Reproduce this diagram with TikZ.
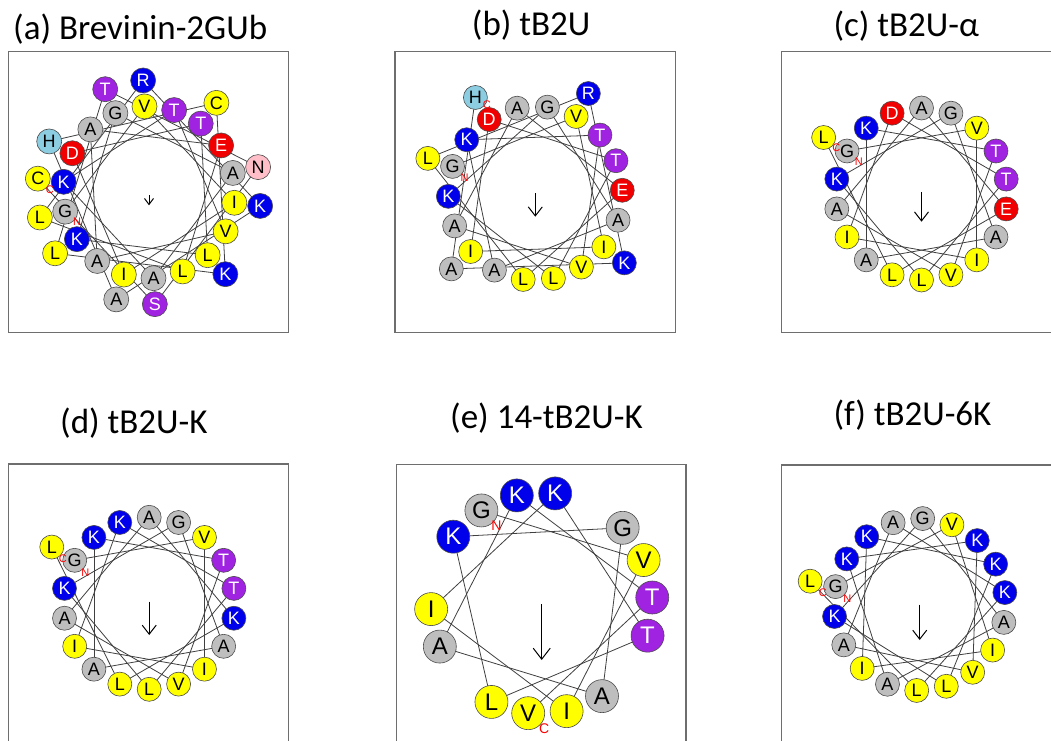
\documentclass[tikz,border=0pt]{standalone}
\usepackage{fontspec}
\setmainfont{Carlito}
\newfontfamily\resfont{Liberation Sans}
\usetikzlibrary{arrows.meta,backgrounds}

% residue class colours
\definecolor{aagray}{RGB}{190,190,190}
\definecolor{aayellow}{RGB}{255,255,0}
\definecolor{aablue}{RGB}{0,0,235}
\definecolor{aared}{RGB}{240,0,0}
\definecolor{aapurple}{RGB}{160,35,225}
\definecolor{aacyan}{RGB}{140,205,225}
\definecolor{aapink}{RGB}{255,190,200}
\definecolor{framegray}{RGB}{110,110,110}

% fill and letter colour of every one-letter residue code
\colorlet{colG}{aagray}   \colorlet{txG}{black}
\colorlet{colA}{aagray}   \colorlet{txA}{black}
\colorlet{colV}{aayellow} \colorlet{txV}{black}
\colorlet{colI}{aayellow} \colorlet{txI}{black}
\colorlet{colL}{aayellow} \colorlet{txL}{black}
\colorlet{colC}{aayellow} \colorlet{txC}{black}
\colorlet{colK}{aablue}   \colorlet{txK}{white}
\colorlet{colR}{aablue}   \colorlet{txR}{white}
\colorlet{colD}{aared}    \colorlet{txD}{white}
\colorlet{colE}{aared}    \colorlet{txE}{white}
\colorlet{colT}{aapurple} \colorlet{txT}{white}
\colorlet{colS}{aapurple} \colorlet{txS}{white}
\colorlet{colH}{aacyan}   \colorlet{txH}{black}
\colorlet{colN}{aapink}   \colorlet{txN}{black}

% helical wheel: #1 name prefix, #2 centre, #3 angle of residue 1,
% #4 inner radius, #5 outer radius, #6 sequence, #7 residue style
\newcommand\drawwheel[7]{%
  \foreach \rsd [count=\i] in {#6} {
    \pgfmathsetmacro\ang{#3-100*(\i-1)}
    \pgfmathsetmacro\rad{\i>18 ? #5 : #4}
    \node[#7, fill=col\rsd, text=tx\rsd] (#1\i) at ([shift={(\ang:\rad)}]#2) {\rsd};
    \xdef\nres{\i}
  }
  \begin{pgfonlayer}{background}
    \foreach \i [remember=\i as \j (initially 1)] in {2,...,\nres} {
      \draw[chord] (#1\j.center) -- (#1\i.center);
    }
  \end{pgfonlayer}
}

\begin{document}
\begin{tikzpicture}[x=1pt,y=1pt,
  frame/.style={draw=framegray, line width=1.5pt},
  title/.style={anchor=base west, inner sep=0pt, font=\fontsize{35}{35}\selectfont},
  res/.style={circle, draw=black!70, line width=0.6pt, inner sep=0pt,
              minimum size=24pt, font=\resfont\fontsize{18}{18}\selectfont},
  resbig/.style={res, minimum size=25pt},
  reslarge/.style={res, minimum size=33pt, font=\resfont\fontsize{24}{24}\selectfont},
  chord/.style={draw=black!75, line width=0.8pt},
  endlab/.style={text=red, inner sep=0pt, font=\resfont\fontsize{11}{11}\selectfont},
  endlabbig/.style={endlab, font=\resfont\fontsize{14}{14}\selectfont},
  moment/.style={draw=black, line width=1pt, -{Straight Barb[length=9pt,width=14pt]}},
]
\useasboundingbox (0,0) rectangle (1051,740);
\begin{pgfonlayer}{background}
  \fill[white] (0,0) rectangle (1051,740);
\end{pgfonlayer}
\clip (0,0) rectangle (1051,740);

% panel frames
\draw[frame] (8.3,407.3) rectangle (288.3,688.3);
\draw[frame] (395,407.3) rectangle (675.7,688.3);
\draw[frame] (781.7,407.3) rectangle (1070,688.3);
\draw[frame] (8.3,-10) rectangle (288.3,276);
\draw[frame] (396.7,-10) rectangle (686,275.7);
\draw[frame] (781.7,-10) rectangle (1070,275);

% panel titles
\node[title] (ta) at (13,700) {(a) Brevinin-2GUb};
\node[title] (tb) at (471.7,704) {(b) tB2U};
\node[title] (tc) at (833.3,703) {(c) tB2U-α};
\node[title] (td) at (60,307) {(d) tB2U-K};
\node[title] (te) at (450,312) {(e) 14-tB2U-K};
\node[title] (tf) at (833.3,315) {(f) tB2U-6K};

% wheel centres
\coordinate (ca) at (149,547.7);
\coordinate (cb) at (535.3,546.7);
\coordinate (cc) at (921.5,546);
\coordinate (cd) at (149.2,136.7);
\coordinate (ce) at (541.7,136.7);
\coordinate (cf) at (919.7,135.5);

% (a) Brevinin-2GUb
\drawwheel{a}{ca}{193}{86}{112}{G,V,I,I,D,T,L,K,G,A,A,K,T,V,A,A,E,L,L,R,K,A,H,C,K,L,T,N,S,C}{resbig}
\node[endlab] (aN) at ([shift={(12,-10.5)}]a1.center) {N};
\node[endlab] (aC) at ([shift={(12,-11)}]a30.center) {C};
\coordinate (am0) at ([yshift=-3]ca);
\coordinate (am1) at ([yshift=-13]ca);
\draw[moment, -{Straight Barb[length=6pt,width=9pt]}] (am0) -- (am1);

% (b) tB2U
\drawwheel{b}{cb}{162}{87}{113}{G,V,I,I,D,T,L,K,G,A,A,K,T,V,A,A,E,L,L,R,K,A,H}{res}
\node[endlab] (bN) at ([shift={(12,-11)}]b1.center) {N};
\node[endlab] (bC) at ([shift={(11.5,-7.5)}]b23.center) {C};
\coordinate (bm0) at (cb);
\coordinate (bm1) at ([yshift=-23.4]cb);
\draw[moment] (bm0) -- (bm1);

% (c) tB2U-alpha
\drawwheel{c}{cc}{150}{86}{113}{G,V,I,I,D,T,L,K,G,A,A,K,T,V,A,A,E,L,L}{res}
\node[endlab] (cN) at ([shift={(11.7,-10.3)}]c1.center) {N};
\node[endlab] (cC) at ([shift={(12.7,-10.7)}]c19.center) {C};
\coordinate (cm0) at ([yshift=2]cc);
\coordinate (cm1) at ([yshift=-27.7]cc);
\draw[moment] (cm0) -- (cm1);

% (d) tB2U-K
\drawwheel{d}{cd}{150}{86}{112.5}{G,V,I,I,K,T,L,K,G,A,A,K,T,V,A,A,K,L,L}{res}
\node[endlab] (dN) at ([shift={(10.5,-12)}]d1.center) {N};
\node[endlab] (dC) at ([shift={(11,-11.5)}]d19.center) {C};
\coordinate (dm0) at ([yshift=1.6]cd);
\coordinate (dm1) at ([yshift=-31.7]cd);
\draw[moment] (dm0) -- (dm1);

% (e) 14-tB2U-K
\drawwheel{e}{ce}{123}{110.7}{140}{G,V,I,I,K,T,L,K,G,A,A,K,T,V}{reslarge}
\node[endlabbig] (eN) at ([shift={(15,-15)}]e1.center) {N};
\node[endlabbig] (eC) at ([shift={(16,-15)}]e14.center) {C};
\coordinate (em0) at ([yshift=-0.7]ce);
\coordinate (em1) at ([yshift=-56.7]ce);
\draw[moment, -{Straight Barb[length=11pt,width=17pt]}] (em0) -- (em1);

% (f) tB2U-6K
\drawwheel{f}{cf}{168}{86}{112}{G,V,I,I,K,K,L,K,G,A,A,K,K,V,A,A,K,L,L}{res}
\node[endlab] (fN) at ([shift={(11.7,-11.7)}]f1.center) {N};
\node[endlab] (fC) at ([shift={(12.7,-11.7)}]f19.center) {C};
\coordinate (fm0) at (cf);
\coordinate (fm1) at ([yshift=-35.5]cf);
\draw[moment] (fm0) -- (fm1);
\end{tikzpicture}
\end{document}
